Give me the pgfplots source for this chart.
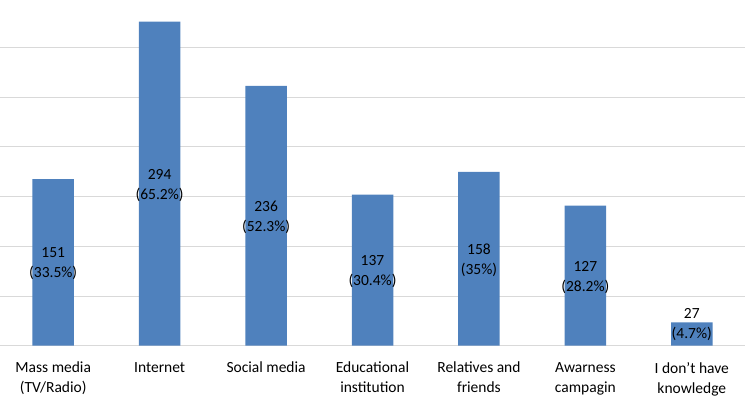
\documentclass[border=0pt]{standalone}
\usepackage{fontspec}
\setmainfont{Carlito}
\usepackage{pgfplots}
\usepackage{pgfplotstable}
\pgfplotsset{compat=1.18}
\definecolor{barblue}{HTML}{4F81BD}
\definecolor{gridgray}{HTML}{D9D9D9}
\pgfplotstableread{
x val lab count pct
0 33.5 16.75 151 33.5
1 65.2 32.6 294 65.2
2 52.3 26.15 236 52.3
3 30.4 15.2 137 30.4
4 35.0 17.5 158 35
5 28.2 14.1 127 28.2
6 4.7 4.47 27 4.7
}\datatable
\begin{document}
\begin{tikzpicture}
\begin{axis}[
  scale only axis,
  width=745bp, height=345.7bp,
  xmin=-0.5, xmax=6.5,
  ymin=0, ymax=69.56,
  axis line style={draw=none},
  major tick length=0pt,
  ytick={0,10,20,30,40,50,60},
  yticklabels={},
  ymajorgrids,
  grid style={gridgray, line width=1bp},
  xtick={0,1,2,3,4,5,6},
  xticklabels={{Mass media\\(TV/Radio)},{Internet},{Social media},{Educational\\institution},{Relatives and\\friends},{Awarness\\campagin},{I don’t have\\knowledge}},
  xticklabel style={align=center, font=\fontsize{15.5bp}{20bp}\selectfont, text=black, yshift=-13bp},
  clip=false,
]
\addplot[ybar, bar width=41.5bp, fill=barblue, draw=none] table[x=x, y=val] {\datatable};
\addplot[draw=none, mark=none,
  point meta=explicit symbolic,
  visualization depends on={\thisrow{pct}\as\pct},
  nodes near coords={\pgfplotspointmeta\\(\pgfmathprintnumber[fixed,precision=1,assume math mode=true]{\pct}\%)},
  every node near coord/.style={anchor=center, align=center, text=black, font=\fontsize{15.5bp}{20bp}\selectfont, inner sep=0pt, yshift=-1.5bp},
] table[x=x, y=lab, meta=count] {\datatable};
\end{axis}
\pgfresetboundingbox
\path ([yshift=-56.3bp]current axis.south west) rectangle ([xshift=5bp]current axis.north east);
\end{tikzpicture}
\end{document}
